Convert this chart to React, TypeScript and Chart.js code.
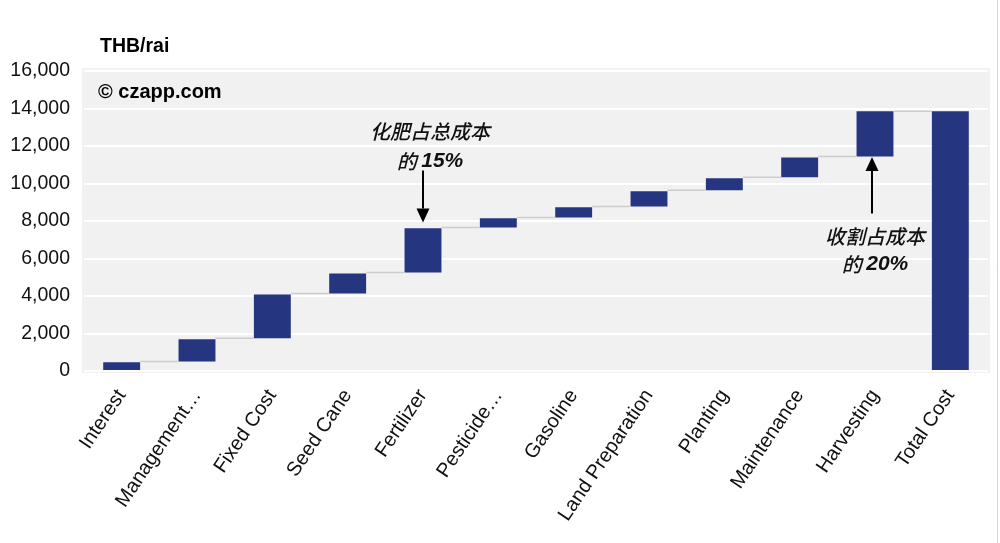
import React, { useEffect, useRef } from "react";
import { Chart, registerables } from "chart.js";

Chart.register(...registerables);

const categories = [
  "Interest",
  "Management…",
  "Fixed Cost",
  "Seed Cane",
  "Fertilizer",
  "Pesticide…",
  "Gasoline",
  "Land Preparation",
  "Planting",
  "Maintenance",
  "Harvesting",
  "Total Cost",
];
const barStarts = [0, 510, 1750, 4130, 5250, 7650, 8190, 8780, 9640, 10330, 11440, 0];
const barEnds = [470, 1700, 4080, 5200, 7620, 8150, 8730, 9590, 10280, 11390, 13860, 13860];
const yTicks = [0, 2000, 4000, 6000, 8000, 10000, 12000, 14000, 16000];
const unitLabel = "THB/rai";
const watermark = "© czapp.com";
const note1 = { index: 4, line1: "化肥占总成本", pre: "的 ", pct: "15%" };
const note2 = { index: 10, line1: "收割占成本", pre: "的 ", pct: "20%" };

const BAR_COLOR = "#263580";
const PLOT_BG = "#f1f1f2";
const CJK = "'Noto Sans CJK SC'";
const LATIN = "'Liberation Sans', Arial, sans-serif";

function drawArrow(ctx: CanvasRenderingContext2D, x: number, y1: number, y2: number) {
  const dir = y2 > y1 ? 1 : -1;
  const headLen = 14;
  const headW = 6.5;
  ctx.save();
  ctx.strokeStyle = "#000";
  ctx.fillStyle = "#000";
  ctx.lineWidth = 2;
  ctx.beginPath();
  ctx.moveTo(x, y1);
  ctx.lineTo(x, y2 - dir * headLen);
  ctx.stroke();
  ctx.beginPath();
  ctx.moveTo(x, y2);
  ctx.lineTo(x - headW, y2 - dir * headLen);
  ctx.lineTo(x + headW, y2 - dir * headLen);
  ctx.closePath();
  ctx.fill();
  ctx.restore();
}

function drawNote(
  ctx: CanvasRenderingContext2D,
  cx: number,
  y1: number,
  y2: number,
  n: { line1: string; pre: string; pct: string }
) {
  ctx.save();
  ctx.fillStyle = "#111";
  ctx.textBaseline = "middle";
  ctx.textAlign = "center";
  ctx.font = `italic 500 20px ${CJK}`;
  ctx.fillText(n.line1, cx, y1);
  ctx.textAlign = "left";
  const wPre = ctx.measureText(n.pre).width;
  ctx.font = `italic bold 21px ${LATIN}`;
  const wPct = ctx.measureText(n.pct).width;
  const start = cx - (wPre + wPct) / 2;
  ctx.font = `italic 500 20px ${CJK}`;
  ctx.fillText(n.pre, start, y2);
  ctx.font = `italic bold 21px ${LATIN}`;
  ctx.fillText(n.pct, start + wPre, y2);
  ctx.restore();
}

const decorPlugin = {
  id: "decor",
  beforeDraw(chart: any) {
    const { ctx, chartArea } = chart;
    ctx.save();
    ctx.fillStyle = "#fff";
    ctx.fillRect(0, 0, chart.width, chart.height);
    ctx.fillStyle = PLOT_BG;
    ctx.fillRect(chartArea.left - 2, chartArea.top - 3, chartArea.right - chartArea.left + 4, chartArea.bottom - chartArea.top + 5);
    ctx.restore();
  },
  afterDatasetsDraw(chart: any) {
    const { ctx } = chart;
    const meta = chart.getDatasetMeta(0);
    const ys = chart.scales.y;
    ctx.save();
    ctx.strokeStyle = "#cdcdcd";
    ctx.lineWidth = 1.5;
    for (let i = 0; i < categories.length - 1; i++) {
      const a = meta.data[i];
      const b = meta.data[i + 1];
      const level = i + 1 === categories.length - 1 ? barEnds[i] : barStarts[i + 1];
      const y = ys.getPixelForValue(level);
      ctx.beginPath();
      ctx.moveTo(a.x + a.width / 2, y);
      ctx.lineTo(b.x - b.width / 2, y);
      ctx.stroke();
    }
    ctx.restore();
  },
  afterDraw(chart: any) {
    const { ctx } = chart;
    const xs = chart.scales.x;
    const ys = chart.scales.y;
    ctx.save();
    ctx.fillStyle = "#000";
    ctx.textBaseline = "middle";
    ctx.textAlign = "left";
    ctx.font = `bold 19.5px ${LATIN}`;
    ctx.fillText(unitLabel, 100, 47);
    ctx.font = `bold 20px ${LATIN}`;
    ctx.fillText(watermark, 98, 92);
    ctx.strokeStyle = "#d4d4d4";
    ctx.lineWidth = 1;
    ctx.beginPath();
    ctx.moveTo(997.5, 0);
    ctx.lineTo(997.5, chart.height);
    ctx.stroke();
    ctx.restore();

    const x1 = xs.getPixelForValue(note1.index);
    drawNote(ctx, x1 + 7, ys.getPixelForValue(12780), ys.getPixelForValue(11200), note1);
    drawArrow(ctx, x1, ys.getPixelForValue(10700), ys.getPixelForValue(barEnds[note1.index] + 300));

    const x2 = xs.getPixelForValue(note2.index);
    drawNote(ctx, x2, ys.getPixelForValue(7170), ys.getPixelForValue(5700), note2);
    drawArrow(ctx, x2 - 3, ys.getPixelForValue(8400), ys.getPixelForValue(barStarts[note2.index] - 30));
  },
};

export default function App() {
  const ref = useRef<HTMLCanvasElement | null>(null);
  useEffect(() => {
    if (!ref.current) return;
    const chart = new Chart(ref.current, {
      type: "bar",
      data: {
        labels: categories,
        datasets: [
          {
            data: categories.map((_, i) => [barStarts[i], barEnds[i]]) as any,
            backgroundColor: BAR_COLOR,
            borderWidth: 0,
            barPercentage: 0.49,
            categoryPercentage: 1,
          },
        ],
      },
      options: {
        responsive: false,
        animation: false,
        devicePixelRatio: 1,
        layout: { padding: { top: 71, right: 12, bottom: 0, left: 0 } },
        plugins: { legend: { display: false }, tooltip: { enabled: false } },
        scales: {
          x: {
            grid: { display: false, drawTicks: false },
            border: { display: false },
            ticks: {
              color: "#111",
              font: { family: LATIN, size: 20 },
              minRotation: 56,
              maxRotation: 56,
              autoSkip: false,
              padding: 14,
            },
            afterFit: (s: any) => {
              s.height = 172;
            },
          },
          y: {
            min: 0,
            max: 16000,
            afterBuildTicks: (s: any) => {
              s.ticks = yTicks.map((v) => ({ value: v }));
            },
            grid: { color: "#ffffff", lineWidth: 2, drawTicks: false },
            border: { display: false },
            ticks: {
              color: "#111",
              font: { family: LATIN, size: 19.5 },
              padding: 14,
              callback: (v: any) => Number(v).toLocaleString("en-US"),
            },
            afterFit: (s: any) => {
              s.width = 84;
            },
          },
        },
      },
      plugins: [decorPlugin],
    });
    return () => chart.destroy();
  }, []);
  return (
    <div style={{ position: "absolute", left: 0, top: 0, width: 1000, height: 543, background: "#fff" }}>
      <canvas ref={ref} width={1000} height={543} style={{ width: 1000, height: 543, display: "block" }} />
    </div>
  );
}
